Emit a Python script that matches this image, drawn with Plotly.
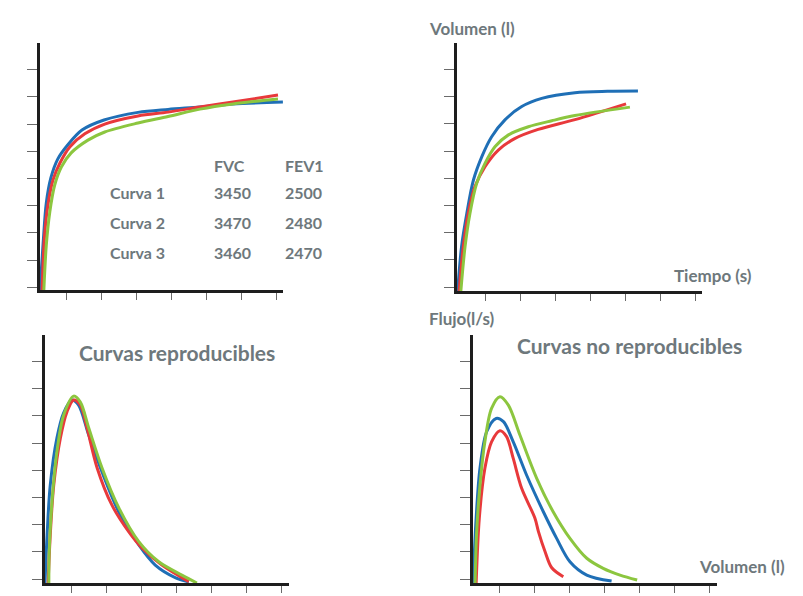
import plotly.graph_objects as go

W, H = 803, 596
OFF = 8  # default page body margin
FW, FH = W - OFF, H - OFF

# ---------------- data (grid units: 1 unit = one tick step) ----------------
# Panel 1: volume-time, reproducible
p1_blue_x = [0, 0.09, 0.18, 0.31, 0.51, 0.79, 1.2, 1.83, 2.8, 3.66, 4.57, 5.51, 6.94]
p1_blue_y = [0, 1.73, 3.2, 4.12, 4.82, 5.33, 5.88, 6.25, 6.53, 6.64, 6.73, 6.84, 6.91]
p1_red_x = [0.06, 0.13, 0.23, 0.37, 0.57, 0.85, 1.28, 1.85, 2.8, 3.66, 4.57, 5.51, 6.8]
p1_red_y = [0.0, 1.99, 3.16, 4.04, 4.67, 5.26, 5.74, 6.1, 6.4, 6.54, 6.73, 6.91, 7.17]
p1_green_x = [0.11, 0.18, 0.28, 0.42, 0.61, 0.89, 1.37, 1.85, 2.8, 3.66, 4.57, 5.51, 6.8]
p1_green_y = [0, 1.65, 2.87, 3.86, 4.52, 5.04, 5.51, 5.81, 6.14, 6.38, 6.65, 6.84, 7.02]

# Panel 2: volume-time, non reproducible
p2_blue_x = [0.02, 0.13, 0.28, 0.47, 0.71, 0.99, 1.37, 1.85, 2.42, 3.37, 4.3, 5.17]
p2_blue_y = [0.0, 1.63, 2.85, 4.08, 4.94, 5.67, 6.29, 6.78, 7.08, 7.29, 7.34, 7.35]
p2_red_x = [0.06, 0.18, 0.32, 0.51, 0.8, 1.18, 1.66, 2.32, 3.37, 4.83]
p2_red_y = [0.0, 1.63, 2.85, 3.83, 4.57, 5.18, 5.61, 5.94, 6.3, 6.88]
p2_green_x = [0.11, 0.23, 0.37, 0.56, 0.8, 1.09, 1.47, 2.04, 2.71, 3.37, 4.94]
p2_green_y = [0.0, 1.63, 2.85, 3.95, 4.69, 5.31, 5.74, 6.04, 6.26, 6.45, 6.76]

# Panel 3: flow-volume, reproducible
p3_blue_x = [0, 0.06, 0.15, 0.34, 0.53, 0.77, 0.96, 1.25, 1.63, 2.11, 2.68, 3.15, 3.72, 4.11]
p3_blue_y = [0, 1.76, 3.6, 5.33, 6.25, 6.73, 6.54, 5.44, 4.08, 2.61, 1.4, 0.66, 0.2, 0.04]
p3_red_x = [0.09, 0.15, 0.25, 0.44, 0.63, 0.82, 1.01, 1.2, 1.49, 1.91, 2.39, 2.77, 3.34, 4.11]
p3_red_y = [0, 1.76, 3.6, 5.33, 6.3, 6.73, 6.54, 5.7, 4.23, 2.87, 1.89, 1.29, 0.66, 0.05]
p3_green_x = [0.11, 0.12, 0.2, 0.34, 0.53, 0.82, 1.01, 1.25, 1.63, 2.11, 2.68, 3.25, 3.91, 4.34]
p3_green_y = [0, 1.14, 2.98, 4.82, 6.16, 6.87, 6.65, 5.7, 4.23, 2.76, 1.52, 0.78, 0.29, 0]

# Panel 4: flow-volume, non reproducible
p4_blue_x = [0, 0.09, 0.2, 0.39, 0.66, 0.87, 1.15, 1.53, 2.01, 2.39, 2.77, 3.25, 3.96]
p4_blue_y = [0, 2.39, 4.23, 5.56, 6.05, 5.93, 5.19, 3.97, 2.62, 1.64, 0.78, 0.29, 0.07]
p4_red_x = [0.09, 0.18, 0.34, 0.53, 0.77, 0.96, 1.15, 1.39, 1.77, 1.87, 2.06, 2.25, 2.58]
p4_red_y = [0, 2.38, 4.22, 5.19, 5.6, 5.38, 4.58, 3.48, 2.38, 1.89, 1.15, 0.56, 0.23]
p4_green_x = [0.06, 0.1, 0.2, 0.34, 0.53, 0.77, 1.01, 1.34, 1.82, 2.29, 2.77, 3.25, 3.72, 4.2, 4.69]
p4_green_y = [0, 1.76, 3.6, 5.2, 6.42, 6.85, 6.54, 5.44, 3.85, 2.62, 1.64, 0.91, 0.54, 0.29, 0.11]

# Table
table_cols = ["FVC", "FEV1"]
table_rows = ["Curva 1", "Curva 2", "Curva 3"]
fvc = [3450, 3470, 3460]
fev1 = [2500, 2480, 2470]

BLUE, RED, GREEN = "#1f6fb6", "#e8393b", "#8cc63f"
TXT = "#6e787c"
FONT = "Lato"

panels = [
    # (x px range, y px range(top,bottom), x tick0, y tick0, series)
    ((40, 283), (43, 290), 0.77, 1.10,
     [(p1_blue_x, p1_blue_y, BLUE), (p1_red_x, p1_red_y, RED), (p1_green_x, p1_green_y, GREEN)]),
    ((457, 702), (43, 291), 0.80, 1.14,
     [(p2_blue_x, p2_blue_y, BLUE), (p2_red_x, p2_red_y, RED), (p2_green_x, p2_green_y, GREEN)]),
    ((45, 289), (335, 583), 0.77, 1.14,
     [(p3_blue_x, p3_blue_y, BLUE), (p3_red_x, p3_red_y, RED), (p3_green_x, p3_green_y, GREEN)]),
    ((473, 717), (335, 583), 0.77, 1.14,
     [(p4_blue_x, p4_blue_y, BLUE), (p4_red_x, p4_red_y, RED), (p4_green_x, p4_green_y, GREEN)]),
]

XPX, YPX = 35.0, 27.2


def fx(px):
    return (px - OFF) / FW


def fy(py):
    return 1 - (py - OFF) / FH


fig = go.Figure()
layout = {}
for i, (xr, yr, xt0, yt0, series) in enumerate(panels, start=1):
    sfx = "" if i == 1 else str(i)
    for xs, ys, c in series:
        fig.add_trace(go.Scatter(x=xs, y=ys, mode="lines",
                                 line=dict(color=c, width=3, shape="spline", smoothing=0.9),
                                 xaxis="x" + sfx, yaxis="y" + sfx, showlegend=False,
                                 hoverinfo="skip"))
    xlen = (xr[1] - xr[0]) / XPX
    ylen = (yr[1] - yr[0]) / YPX
    common = dict(showline=True, linecolor="#1e1e1e", linewidth=3, ticks="outside",
                  tickcolor="#6a6a6a", tickwidth=1, showticklabels=False,
                  showgrid=False, zeroline=False, tickmode="linear", dtick=1, fixedrange=True)
    layout["xaxis" + sfx] = dict(common, domain=[fx(xr[0]), fx(xr[1])], range=[0, xlen],
                                 tick0=xt0, ticklen=7, anchor="y" + sfx)
    layout["yaxis" + sfx] = dict(common, domain=[fy(yr[1]), fy(yr[0])], range=[0, ylen],
                                 tick0=yt0, ticklen=10, anchor="x" + sfx)

annotations = []


def txt(text, px, py, size, anchor="left"):
    annotations.append(dict(text=text, x=fx(px), y=fy(py), xref="paper", yref="paper",
                            xanchor=anchor, yanchor="middle", showarrow=False,
                            font=dict(family=FONT, size=size, color=TXT, weight="bold")))


txt(table_cols[0], 212, 165, 16)
txt(table_cols[1], 283, 165, 16)
for r, name in enumerate(table_rows):
    yy = 193 + r * 29.5
    txt(name, 108, yy, 16)
    txt(str(fvc[r]), 212, yy, 16)
    txt(str(fev1[r]), 283, yy, 16)

txt("Volumen (l)", 427, 28, 17)
txt("Tiempo (s)", 672, 275, 17)
txt("Flujo(l/s)", 427, 318, 17)
txt("Volumen (l)", 697, 566, 17)
txt("Curvas reproducibles", 177, 352, 21, anchor="center")
txt("Curvas no reproducibles", 629, 345, 21, anchor="center")

fig.update_layout(**layout)
fig.update_layout(width=FW, height=FH, margin=dict(l=0, r=0, t=0, b=0),
                  paper_bgcolor="white", plot_bgcolor="white", annotations=annotations)

fig.write_html("out.html")
